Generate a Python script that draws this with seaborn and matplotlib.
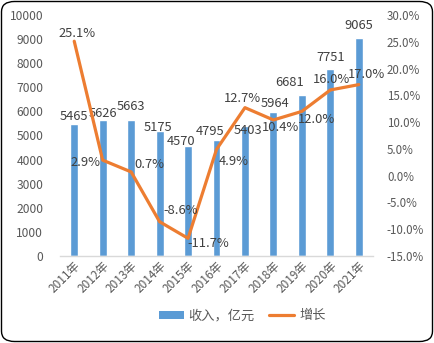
import numpy as np
import pandas as pd
import matplotlib
matplotlib.use("Agg")
import matplotlib.pyplot as plt
import seaborn as sns
from matplotlib.patches import FancyBboxPatch, Patch
from matplotlib.lines import Line2D

years = ["2011年", "2012年", "2013年", "2014年", "2015年", "2016年",
         "2017年", "2018年", "2019年", "2020年", "2021年"]
revenue = [5465, 5626, 5663, 5175, 4570, 4795, 5403, 5964, 6681, 7751, 9065]
growth = [25.1, 2.9, 0.7, -8.6, -11.7, 4.9, 12.7, 10.4, 12.0, 16.0, 17.0]

rev_label_dy = [8, 7, 13, 4, 4, 9, -5, 9, 12, 12, 12]
rev_label_dx = [0, 0, 0, -2, -7, -6, 3, 2, -12, 0, 0]
gr_label_off = [(3, 8), (-17, -2), (18, 7), (21, 11), (20, -5), (17, -12),
                (-3, 9), (7, -8), (15, -8), (1, 10), (8, 10)]

sns.set_theme(style="white")
plt.rcParams["font.family"] = ["Noto Sans CJK SC", "DejaVu Sans"]

BLUE = "#5B9BD5"
ORANGE = "#ED7D31"
TXT = "#595959"

fig = plt.figure(figsize=(4.34, 3.43), dpi=100)
ax = fig.add_axes([60 / 434, 1 - 256 / 343, 313 / 434, 241 / 343])

df = pd.DataFrame({"year": years, "revenue": revenue})
sns.barplot(data=df, x="year", y="revenue", color=BLUE, width=0.28,
            saturation=1, ax=ax, zorder=2)
ax.set_xlim(-0.5, len(years) - 0.5)
ax.set_ylim(0, 10000)
ax.set_yticks(np.arange(0, 10001, 1000))
ax.set_xlabel("")
ax.set_ylabel("")
ax.tick_params(axis="y", labelsize=8.7, colors=TXT, length=0, pad=12)
ax.tick_params(axis="x", labelsize=8.5, colors=TXT, length=0, pad=2)
for lab in ax.get_xticklabels():
    lab.set_rotation(45)
    lab.set_ha("right")
    lab.set_rotation_mode("anchor")
for s in ["top", "right", "left"]:
    ax.spines[s].set_visible(False)
ax.spines["bottom"].set_color("#D9D9D9")
ax.spines["bottom"].set_linewidth(1)

for i, v in enumerate(revenue):
    ax.annotate(str(v), (i, v), xytext=(rev_label_dx[i], rev_label_dy[i]),
                textcoords="offset pixels", ha="center", va="center",
                fontsize=9.3, color="#404040", zorder=5)

ax2 = ax.twinx()
sns.lineplot(x=np.arange(len(years)), y=growth, color=ORANGE, linewidth=2.3,
             ax=ax2, zorder=3)
ax2.set_ylim(-15, 30)
ax2.set_yticks(np.arange(-15, 30.1, 5))
ax2.set_yticklabels([f"{t:.1f}%" for t in np.arange(-15, 30.1, 5)])
ax2.tick_params(axis="y", labelsize=8.3, colors=TXT, length=0, pad=10)
for s in ["top", "right", "left", "bottom"]:
    ax2.spines[s].set_visible(False)
ax2.set_ylabel("")
for i, v in enumerate(growth):
    dx, dy = gr_label_off[i]
    ax2.annotate(f"{v:.1f}%", (i, v), xytext=(dx, dy),
                 textcoords="offset pixels", ha="center", va="center",
                 fontsize=9.3, color="#404040", zorder=5)

handles = [Patch(facecolor=BLUE, edgecolor="none"),
           Line2D([0], [0], color=ORANGE, linewidth=2.3)]
fig.legend(handles, ["收入，亿元", "增长"], loc="center",
           bbox_to_anchor=(0.558, 1 - 316 / 343), ncol=2, frameon=False,
           fontsize=9.5, labelcolor=TXT, handlelength=1.9, handleheight=0.55,
           columnspacing=1.1, handletextpad=0.35)

border = FancyBboxPatch((1.5 / 434, 1.5 / 343), 1 - 3 / 434, 1 - 3 / 343,
                        boxstyle="round,pad=0,rounding_size=0.03",
                        transform=fig.transFigure, facecolor="none",
                        edgecolor="black", linewidth=1.0)
fig.patches.append(border)

fig.savefig("out.png", dpi=100)
